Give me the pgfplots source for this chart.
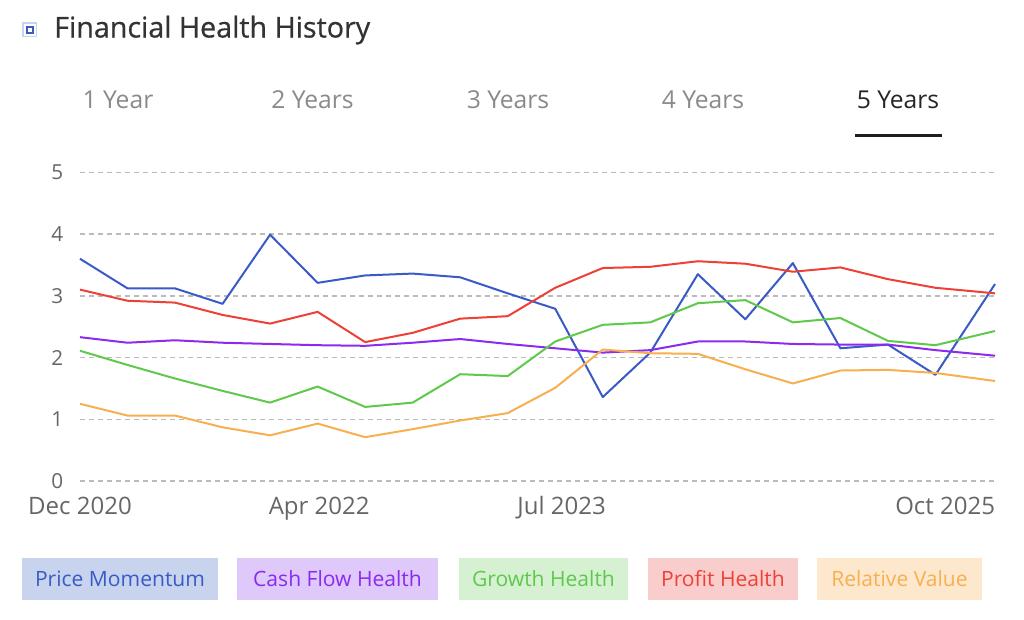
\documentclass[border=0pt]{standalone}
\usepackage{pgfplots}
\pgfplotsset{compat=1.18}
\usepackage{fontspec}
\setmainfont{Open Sans}
\newfontfamily\titlefont[FakeBold=0.6]{Open Sans}
\definecolor{cPM}{HTML}{3A5BC7}
\definecolor{cCF}{HTML}{8A2BEF}
\definecolor{cGH}{HTML}{5FC94C}
\definecolor{cPH}{HTML}{EE4036}
\definecolor{cRV}{HTML}{F8B04F}
\definecolor{bPM}{HTML}{C8D3EE}
\definecolor{bCF}{HTML}{DFC8FA}
\definecolor{bGH}{HTML}{D6F0D2}
\definecolor{bPH}{HTML}{F9CDCB}
\definecolor{bRV}{HTML}{FDE8CE}
\definecolor{titlegray}{HTML}{333333}
\definecolor{tabgray}{HTML}{8A8A8A}
\definecolor{tickgray}{HTML}{666666}
\definecolor{gridgray}{HTML}{BBBBBB}

\pgfplotstableread{
x PM CF GH PH RV
0 3.60 2.33 2.11 3.10 1.25
3 3.12 2.24 1.88 2.92 1.06
6 3.12 2.28 1.66 2.89 1.06
9 2.87 2.24 1.46 2.69 0.87
12 3.99 2.22 1.27 2.55 0.74
15 3.21 2.20 1.53 2.74 0.93
18 3.33 2.19 1.20 2.25 0.71
21 3.36 2.24 1.27 2.40 0.84
24 3.30 2.30 1.73 2.63 0.98
27 3.04 2.22 1.70 2.67 1.10
30 2.79 2.15 2.26 3.13 1.51
33 1.36 2.08 2.53 3.45 2.13
36 2.08 2.12 2.57 3.47 2.07
39 3.35 2.26 2.88 3.56 2.06
42 2.62 2.26 2.93 3.52 1.81
45 3.53 2.22 2.57 3.39 1.58
48 2.15 2.21 2.64 3.46 1.79
51 2.21 2.21 2.27 3.27 1.80
54 1.72 2.12 2.20 3.13 1.75
57.76 3.19 2.03 2.43 3.04 1.62
}\datatable

\begin{document}
\begin{tikzpicture}
\path[use as bounding box] (0,0) rectangle (768pt,-464.25pt);
\fill[white] (0,0) rectangle (768pt,-464.25pt);
\begin{scope}[x=0.75pt,y=-0.75pt]
  % icon
  \fill[bPM] (22,22) rectangle (37,37);
  \fill[white] (23.5,23.5) rectangle (35.5,35.5);
  \fill[cPM] (25.5,25.5) rectangle (33.5,33.5);
  \fill[white] (27.5,27.5) rectangle (31.5,31.5);
  % title
  \node[anchor=base west, inner sep=0pt, text=titlegray, font=\titlefont\fontsize{21.5}{25}\selectfont] at (54,37.5) {Financial Health History};
  % tabs
  \begin{scope}[every node/.style={anchor=base, inner sep=0pt, font=\fontsize{18.5}{22}\selectfont}]
    \node[text=tabgray] at (118,108.5) {1 Year};
    \node[text=tabgray] at (312.5,108.5) {2 Years};
    \node[text=tabgray] at (508,108.5) {3 Years};
    \node[text=tabgray] at (703,108.5) {4 Years};
    \node[text=black!85] at (898,108.5) {5 Years};
  \end{scope}
  \fill[black!88] (855,133.5) rectangle (942,137);
  % legend
  \begin{scope}[every node/.style={anchor=base, inner sep=0pt, font=\fontsize{15.8}{18}\selectfont}]
    \fill[bPM] (22,558) rectangle (218,600);
    \node[text=cPM] at (120,586) {Price Momentum};
    \fill[bCF] (237,558) rectangle (438,600);
    \node[text=cCF] at (337.5,586) {Cash Flow Health};
    \fill[bGH] (459,558) rectangle (628,600);
    \node[text=cGH] at (543.5,586) {Growth Health};
    \fill[bPH] (648,558) rectangle (798,600);
    \node[text=cPH] at (723,586) {Profit Health};
    \fill[bRV] (817,558) rectangle (982,600);
    \node[text=cRV] at (899.5,586) {Relative Value};
  \end{scope}
\end{scope}
\begin{axis}[
  at={(60pt,-360.75pt)}, anchor=south west,
  scale only axis, width=686.25pt, height=231.5pt,
  xmin=0, xmax=57.76, ymin=0, ymax=5,
  axis line style={draw=none},
  major tick length=0pt,
  ytick={0,1,2,3,4,5},
  xtick={0,15.1,30.4,57.76},
  xticklabels={Dec 2020, Apr 2022, Jul 2023, \llap{Oct 2025}},
  ymajorgrids,
  grid style={gridgray, line width=1.1pt, dash pattern=on 3.75pt off 3pt},
  tick label style={text=tickgray},
  yticklabel style={anchor=east, inner sep=0pt, xshift=-12.5pt, font=\fontsize{15.5}{18}\selectfont},
  xticklabel style={anchor=base, inner sep=0pt, yshift=-24.75pt, font=\fontsize{18}{21}\selectfont},
  /pgf/number format/assume math mode=true,
  every axis plot/.append style={line width=1.5pt, mark=none, line join=round},
  clip=false,
]
\addplot[cPM] table[x=x, y=PM] {\datatable};
\addplot[cCF] table[x=x, y=CF] {\datatable};
\addplot[cGH] table[x=x, y=GH] {\datatable};
\addplot[cPH] table[x=x, y=PH] {\datatable};
\addplot[cRV] table[x=x, y=RV] {\datatable};
\end{axis}
\end{tikzpicture}
\end{document}
